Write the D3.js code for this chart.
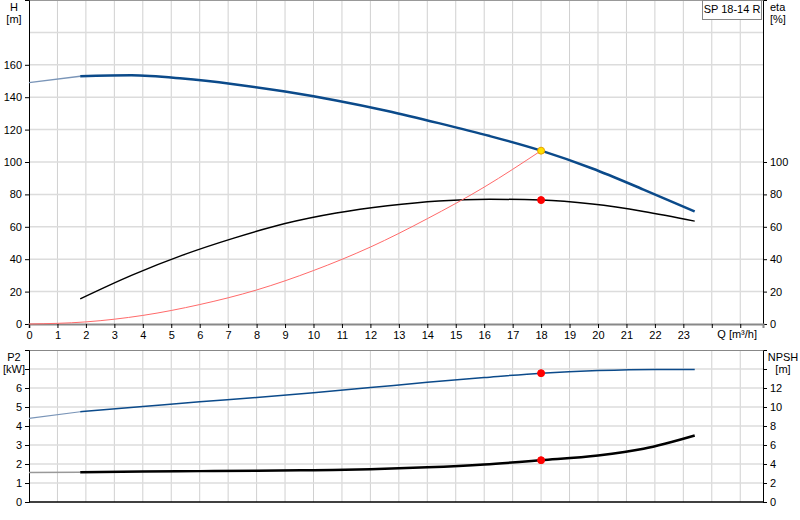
<!DOCTYPE html>
<html><head><meta charset="utf-8">
<script src="https://cdn.jsdelivr.net/npm/d3@7"></script>
<style>body{margin:0;background:#fff}text{font-family:Arial,"Liberation Sans",sans-serif;font-size:11px}</style>
</head><body><svg id="c" width="800" height="520"></svg>
<script>
// head curve H [m] vs Q [m3/h]
const headQ = [0, 1.8, 3.6, 5.4, 7.2, 9, 10.8, 12.6, 14.4, 16.2, 18, 19.8, 21.6, 23.4];
const headH = [149, 153, 153.5, 151.5, 148, 143.5, 138, 131.5, 124, 116, 107, 96, 83, 69.5];
// efficiency eta [%]
const etaQ = [1.8, 3.6, 5.4, 7.2, 9, 10.8, 12.6, 14.4, 16.2, 18, 19.8, 21.6, 23.4];
const etaV = [15.5, 30, 42.5, 53, 62, 68.5, 73, 76, 77, 76.5, 74, 69.5, 63.5];
// system curve
const sysQ = [0, 2, 4, 6, 8, 10, 12, 14, 16, 18];
const sysH = [0, 1.3, 5.3, 12, 21, 33, 47.5, 65, 84.5, 107];
// P2 [kW]
const p2Q = [0, 1.8, 4, 6, 8, 10, 12, 14, 16, 18, 20, 22, 23.4];
const p2V = [4.4, 4.75, 5.02, 5.27, 5.5, 5.75, 6.02, 6.3, 6.55, 6.78, 6.92, 6.98, 6.98];
// NPSH [m]
const npQ = [0, 1.8, 4, 6, 8, 10, 12, 14, 16, 18, 20, 21.6, 23.4];
const npV = [3.1, 3.12, 3.2, 3.25, 3.28, 3.35, 3.45, 3.65, 3.95, 4.4, 4.9, 5.6, 7];
const dutyQ = 18, dutyH = 107, dutyEta = 76.5, dutyP2 = 6.78, dutyNp = 4.4;
const qTicks = d3.range(0, 24);
const hTicks = [0, 20, 40, 60, 80, 100, 120, 140, 160];
const etaTicks = [0, 20, 40, 60, 80, 100];
const p2Ticks = [0, 1, 2, 3, 4, 5, 6];
const npTicks = [0, 2, 4, 6, 8, 10, 12];

const svg = d3.select("#c");
const L = 29, R = 763;
const x = d3.scaleLinear().domain([0, 25.8]).range([L, R]);
const yH = d3.scaleLinear().domain([0, 200]).range([324, 0]);
const yP = d3.scaleLinear().domain([0, 8]).range([502, 350]);
const yN = d3.scaleLinear().domain([0, 16]).range([502, 350]);

function grid(y, top, bot, vals) {
  const g = svg.append("g");
  g.selectAll(".v").data(d3.range(1, 26)).join("line")
    .attr("x1", d => x(d)).attr("x2", d => x(d)).attr("y1", top).attr("y2", bot)
    .attr("stroke", "#d0d0d0");
  g.selectAll(".h").data(vals).join("line")
    .attr("x1", L).attr("x2", R).attr("y1", d => y(d)).attr("y2", d => y(d))
    .attr("stroke", "#dcdcdc").attr("stroke-width", 1.5);
}
grid(yH, 0, 324, d3.range(20, 200, 20));
grid(yP, 350, 502, d3.range(1, 8));
svg.append("line").attr("x1", L).attr("x2", R).attr("y1", 0.5).attr("y2", 0.5).attr("stroke", "#999");
svg.append("line").attr("x1", L).attr("x2", R).attr("y1", 350.5).attr("y2", 350.5).attr("stroke", "#888");

// axes
const ax = (gen, tx, ty) => svg.append("g").attr("transform", `translate(${tx},${ty})`).call(gen)
  .call(g => g.select(".domain").attr("stroke", "#000"));
ax(d3.axisLeft(yH).tickValues(hTicks).tickSize(4), L, 0);
ax(d3.axisRight(yH).tickValues(etaTicks).tickSize(4), R, 0);
ax(d3.axisLeft(yP).tickValues(p2Ticks.concat([7])).tickFormat(d => d === 7 ? "" : d).tickSize(4), L, 0);
ax(d3.axisRight(yN).tickValues(npTicks.concat([14])).tickFormat(d => d === 14 ? "" : d).tickSize(4), R, 0);
const xa = ax(d3.axisBottom(x).tickValues(qTicks).tickSize(4), 0, 324);
xa.select(".domain").attr("stroke", "#888").attr("stroke-width", 2);
svg.append("g").attr("transform", "translate(0,324)").call(d3.axisBottom(x).tickValues([24, 25]).tickFormat("").tickSize(4)).select(".domain").remove();
svg.append("line").attr("x1", L).attr("x2", R).attr("y1", 502).attr("y2", 502).attr("stroke", "#000").attr("stroke-width", 1.5);
svg.selectAll(".tick text").attr("font-size", 11).attr("fill", "#000");

const lab = (t, xx, yy, a) => svg.append("text").attr("x", xx).attr("y", yy).attr("text-anchor", a || "middle").text(t);
lab("H", 14, 11); lab("[m]", 14, 23);
lab("eta", 770, 11, "start"); lab("[%]", 770, 23, "start");
lab("P2", 14, 361); lab("[kW]", 14, 373);
lab("NPSH", 783, 361); lab("[m]", 783, 373);
lab("Q [m³/h]", 757, 338, "end");
svg.append("rect").attr("x", 702.5).attr("y", 0.5).attr("width", 59).attr("height", 19).attr("fill", "#fff").attr("stroke", "#888");
lab("SP 18-14 R", 732, 13);

const line = (qs, vs, y) => d3.line().curve(d3.curveMonotoneX).x((d, i) => x(qs[i])).y((d, i) => y(vs[i]))(vs);
const path = (d, c, w) => svg.append("path").attr("d", d).attr("fill", "none").attr("stroke", c).attr("stroke-width", w);
path(line(headQ.slice(0, 2), headH.slice(0, 2), yH), "#7a95b8", 1.5);
path(line(headQ.slice(1), headH.slice(1), yH), "#0b4a8a", 2.5);
path(line(etaQ, etaV, yH), "#000", 1.5);
path(line(sysQ, sysH, yH), "#ff6a6a", 1);
path(line(p2Q.slice(0, 2), p2V.slice(0, 2), yP), "#7a95b8", 1.2);
path(line(p2Q.slice(1), p2V.slice(1), yP), "#0b4a8a", 1.5);
path(line(npQ.slice(0, 2), npV.slice(0, 2), yN), "#999", 1.5);
path(line(npQ.slice(1), npV.slice(1), yN), "#000", 2.5);

const dot = (cx, cy, f, s) => svg.append("circle").attr("cx", cx).attr("cy", cy).attr("r", 3.5).attr("fill", f).attr("stroke", s || f);
dot(x(dutyQ), yH(dutyEta), "#f00");
dot(x(dutyQ), yH(dutyH), "#ffe000", "#e8a000");
dot(x(dutyQ), yP(dutyP2), "#f00");
dot(x(dutyQ), yN(dutyNp), "#f00");
</script></body></html>
